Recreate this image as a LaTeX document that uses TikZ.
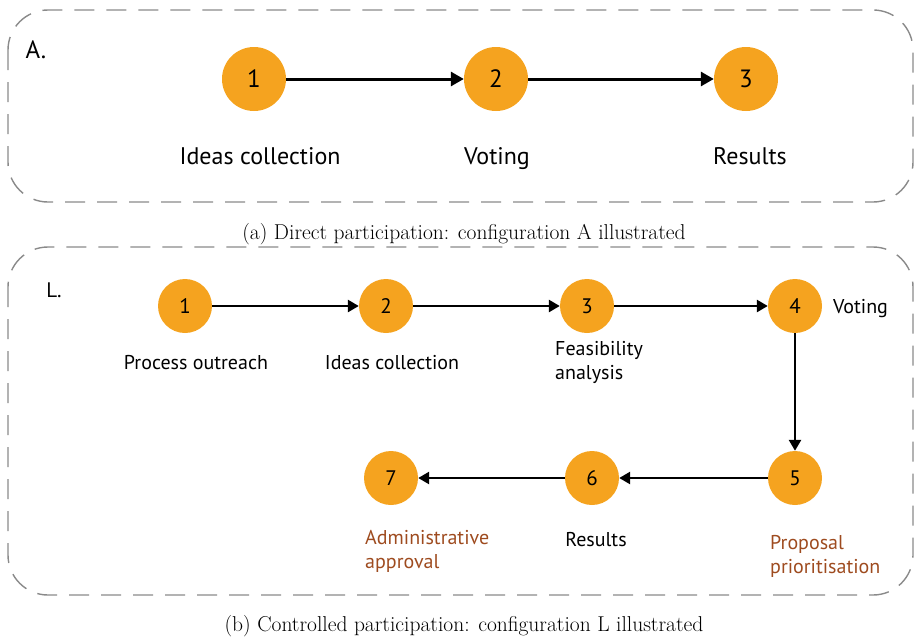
\documentclass[tikz,border=0pt]{standalone}
\usepackage{fontspec}
\newfontfamily\labelfont{PT Sans}
\usetikzlibrary{arrows.meta}
\definecolor{dotorange}{HTML}{F5A31F}
\definecolor{brownlab}{HTML}{9E4B1F}
\definecolor{dashgray}{HTML}{8A8A8A}
\begin{document}
\begin{tikzpicture}[x=1pt,y=-1pt,
  frame/.style={draw=dashgray, line width=1.4pt, dash pattern=on 20pt off 12pt, rounded corners=40pt},
  bigdot/.style={circle, fill=dotorange, minimum size=64pt, inner sep=0pt, font=\labelfont\fontsize{25}{25}\selectfont},
  smalldot/.style={circle, fill=dotorange, minimum size=54pt, inner sep=0pt, font=\labelfont\fontsize{21}{21}\selectfont},
  biglab/.style={font=\labelfont\fontsize{24}{24}\selectfont, inner sep=0pt, anchor=base},
  smalllab/.style={font=\labelfont\fontsize{20}{24}\selectfont, inner sep=0pt, align=left, anchor=base},
  brownlabel/.style={smalllab, text=brownlab},
  bigarrow/.style={-{Triangle[length=13pt,width=14pt]}, line width=3pt},
  smallarrow/.style={-{Triangle[length=11pt,width=12pt]}, line width=2.6pt},
  captiontext/.style={font=\fontsize{21.5}{24}\selectfont, inner sep=0pt, anchor=base}]
\useasboundingbox (0,0) rectangle (915,637);
% frames
\draw[frame] (8,10) rectangle (913,202);
\draw[frame] (8,247) rectangle (913,595);
% configuration A
\node[biglab, font=\labelfont\fontsize{25}{25}\selectfont] (tagA) at (36,58) {A.};
\node[bigdot] (a1) at (254,79) {1};
\node[bigdot] (a2) at (496,79) {2};
\node[bigdot] (a3) at (746,79) {3};
\draw[bigarrow] (a1) -- (a2);
\draw[bigarrow] (a2) -- (a3);
\node[biglab] (la1) at (260,164) {Ideas collection};
\node[biglab] (la2) at (497,164) {Voting};
\node[biglab] (la3) at (750,164) {Results};
\node[captiontext] (capA) at (464,239) {(a) Direct participation: configuration A illustrated};
% configuration L
\node[smalllab, font=\labelfont\fontsize{21}{24}\selectfont] (tagL) at (54,297) {L.};
\node[smalldot] (l1) at (185,306) {1};
\node[smalldot] (l2) at (386,306) {2};
\node[smalldot] (l3) at (587,306) {3};
\node[smalldot] (l4) at (795,306) {4};
\node[smalldot] (l5) at (795,478) {5};
\node[smalldot] (l6) at (592,478) {6};
\node[smalldot] (l7) at (391,478) {7};
\draw[smallarrow] (l1) -- (l2);
\draw[smallarrow] (l2) -- (l3);
\draw[smallarrow] (l3) -- (l4);
\draw[smallarrow] (l4) -- (l5);
\draw[smallarrow] (l5) -- (l6);
\draw[smallarrow] (l6) -- (l7);
\node[smalllab] (ll1) at (196,369) {Process outreach};
\node[smalllab] (ll2) at (392,369) {Ideas collection};
\node[smalllab, anchor=base west] (ll3) at (555,379) {Feasibility\\analysis};
\node[smalllab, anchor=base west] (ll4) at (833,313) {Voting};
\node[brownlabel, anchor=base west] (ll5) at (770,573) {Proposal\\prioritisation};
\node[smalllab] (ll6) at (596,546) {Results};
\node[brownlabel, anchor=base west] (ll7) at (365,568) {Administrative\\approval};
\node[captiontext] (capL) at (464,631) {(b) Controlled participation: configuration L illustrated};
\end{tikzpicture}
\end{document}
